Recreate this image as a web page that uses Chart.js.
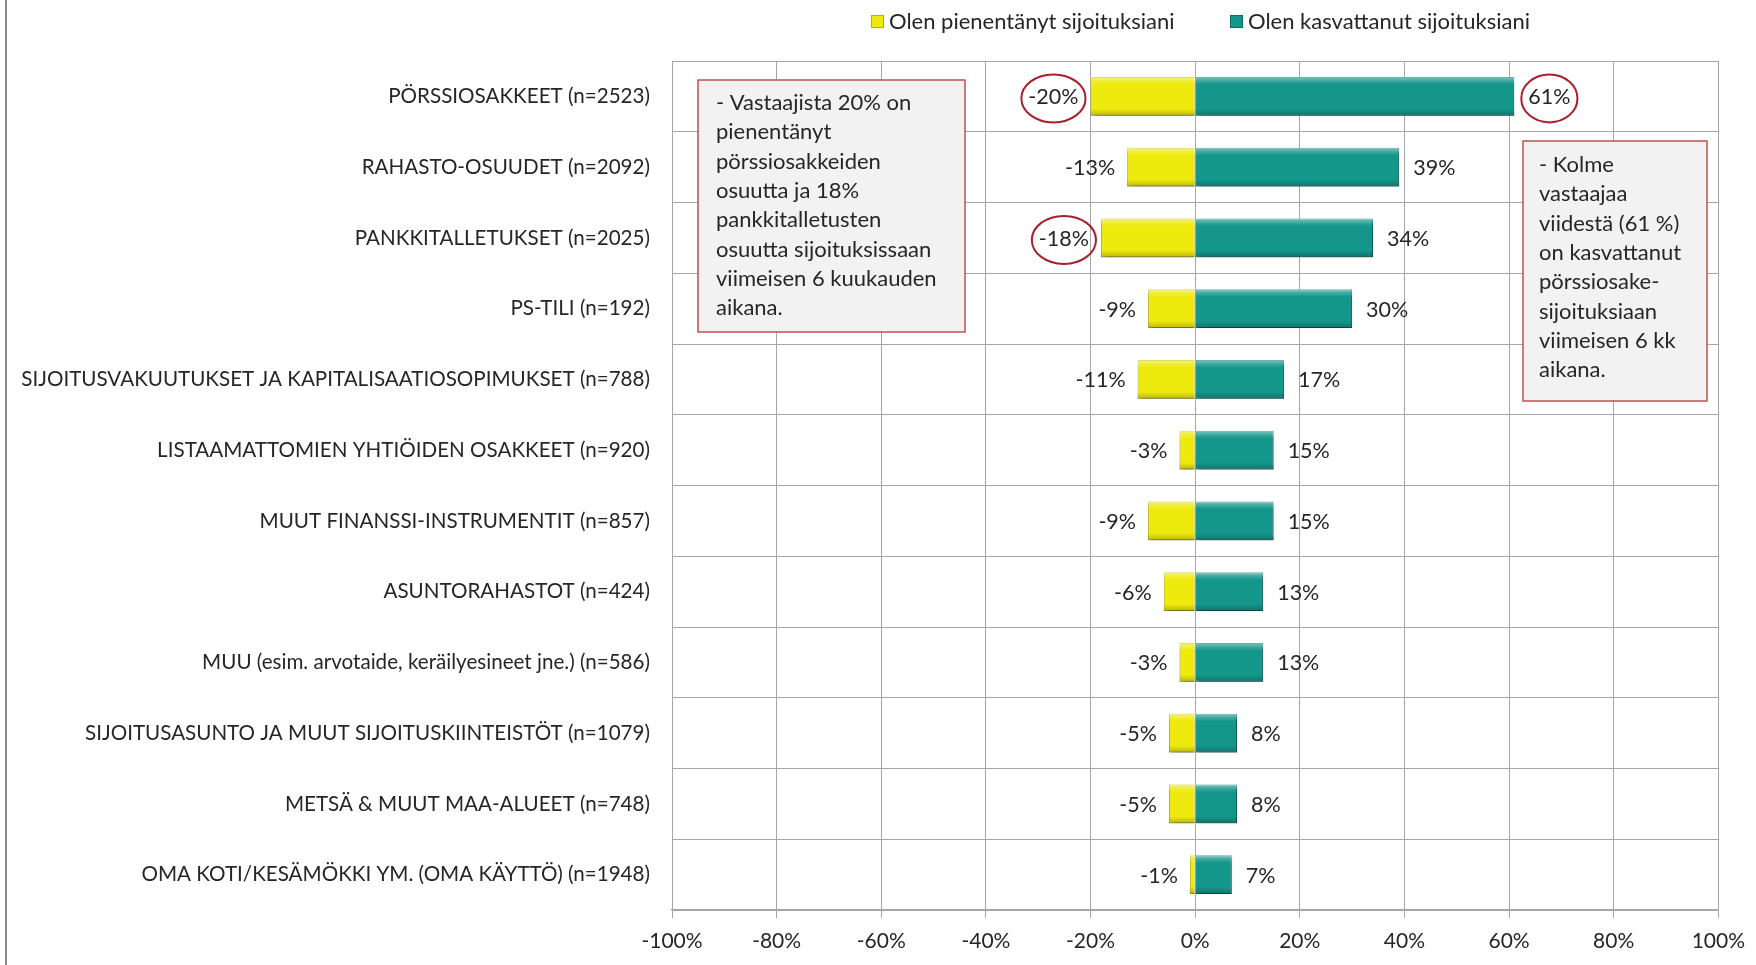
<!DOCTYPE html>
<html>
<head>
<meta charset="utf-8">
<script src="https://cdn.jsdelivr.net/npm/chart.js@4.4.0/dist/chart.umd.min.js"></script>
<style>
html, body { margin: 0; padding: 0; background: #fff; }
#wrap { position: relative; width: 1756px; height: 965px; }
</style>
</head>
<body>
<div id="wrap"><canvas id="InvestChart" width="1756" height="965"></canvas></div>
<script>
var categories = [
    "PÖRSSIOSAKKEET (n=2523)",
    "RAHASTO-OSUUDET (n=2092)",
    "PANKKITALLETUKSET (n=2025)",
    "PS-TILI (n=192)",
    "SIJOITUSVAKUUTUKSET JA KAPITALISAATIOSOPIMUKSET (n=788)",
    "LISTAAMATTOMIEN YHTIÖIDEN OSAKKEET (n=920)",
    "MUUT FINANSSI-INSTRUMENTIT (n=857)",
    "ASUNTORAHASTOT (n=424)",
    "MUU (esim. arvotaide, keräilyesineet jne.) (n=586)",
    "SIJOITUSASUNTO JA MUUT SIJOITUSKIINTEISTÖT (n=1079)",
    "METSÄ & MUUT MAA-ALUEET (n=748)",
    "OMA KOTI/KESÄMÖKKI YM. (OMA KÄYTTÖ) (n=1948)"
];
var decreased = [-20, -13, -18, -9, -11, -3, -9, -6, -3, -5, -5, -1];
var increased = [61, 39, 34, 30, 17, 15, 15, 13, 13, 8, 8, 7];
var seriesNames = ["Olen pienentänyt sijoituksiani", "Olen kasvattanut sijoituksiani"];
var xTicks = [-100, -80, -60, -40, -20, 0, 20, 40, 60, 80, 100];

// circled labels: [dataset index, row index]
var circled = [[0, 0], [1, 0], [0, 2]];

var leftNote = [
    "- Vastaajista 20% on",
    "pienentänyt",
    "pörssiosakkeiden",
    "osuutta ja 18%",
    "pankkitalletusten",
    "osuutta sijoituksissaan",
    "viimeisen 6 kuukauden",
    "aikana."
];
var rightNote = [
    "- Kolme",
    "vastaajaa",
    "viidestä (61 %)",
    "on kasvattanut",
    "pörssiosake-",
    "sijoituksiaan",
    "viimeisen 6 kk",
    "aikana."
];

var FONT = "Lato, 'Open Sans', sans-serif";
var TEXT = "#262626";
var GRID = "#a6a6a6";
var YELLOW = "#eeea0e";
var TEAL = "#14968b";

// shadow under the bars, like the excel bevel look
var shadowPlugin = {
    id: 'barShadow',
    beforeDatasetsDraw: function (chart) {
        var ctx = chart.ctx;
        ctx.save();
        ctx.shadowColor = 'rgba(0,0,0,0.35)';
        ctx.shadowBlur = 5;
        ctx.shadowOffsetX = 2;
        ctx.shadowOffsetY = 3;
    },
    afterDatasetsDraw: function (chart) {
        chart.ctx.restore();
    }
};

var bevelPlugin = {
    id: 'bevel',
    afterDatasetsDraw: function (chart) {
        var ctx = chart.ctx;
        chart.data.datasets.forEach(function (ds, di) {
            chart.getDatasetMeta(di).data.forEach(function (bar) {
                var p = bar.getProps(['x', 'y', 'base', 'height'], true);
                var l = Math.min(p.x, p.base), r = Math.max(p.x, p.base);
                var t = p.y - p.height / 2, b = p.y + p.height / 2;
                if (r - l < 1) return;
                var g = ctx.createLinearGradient(0, t, 0, b);
                g.addColorStop(0, 'rgba(255,255,255,0.45)');
                g.addColorStop(0.12, 'rgba(255,255,255,0.15)');
                g.addColorStop(0.2, 'rgba(255,255,255,0)');
                g.addColorStop(0.82, 'rgba(0,0,0,0)');
                g.addColorStop(1, 'rgba(0,0,0,0.22)');
                ctx.save();
                ctx.fillStyle = g;
                ctx.fillRect(l, t, r - l, b - t);
                ctx.restore();
            });
        });
    }
};

var valueLabelPlugin = {
    id: 'valueLabels',
    afterDatasetsDraw: function (chart) {
        var ctx = chart.ctx;
        ctx.save();
        ctx.font = "21.5px " + FONT;
        ctx.fillStyle = TEXT;
        ctx.textBaseline = 'middle';
        chart.data.datasets.forEach(function (ds, di) {
            chart.getDatasetMeta(di).data.forEach(function (bar, i) {
                var v = ds.data[i];
                var txt = v + '%';
                var w = ctx.measureText(txt).width;
                var cx;
                if (v < 0) {
                    ctx.textAlign = 'right';
                    ctx.fillText(txt, bar.x - 12, bar.y + 1);
                    cx = bar.x - 12 - w / 2;
                } else {
                    ctx.textAlign = 'left';
                    ctx.fillText(txt, bar.x + 14, bar.y + 1);
                    cx = bar.x + 14 + w / 2;
                }
                circled.forEach(function (c) {
                    if (c[0] === di && c[1] === i) {
                        ctx.save();
                        ctx.strokeStyle = '#a8202a';
                        ctx.lineWidth = 2;
                        ctx.beginPath();
                        ctx.ellipse(cx, bar.y + 2, w / 2 + 7, 24, 0, 0, Math.PI * 2);
                        ctx.stroke();
                        ctx.restore();
                    }
                });
            });
        });
        ctx.restore();
    }
};

function drawNote(ctx, x, y, w, h, lines, tx, ty) {
    ctx.save();
    ctx.fillStyle = '#f2f2f2';
    ctx.fillRect(x, y, w, h);
    ctx.strokeStyle = '#c0504d';
    ctx.lineWidth = 1.5;
    ctx.strokeRect(x, y, w, h);
    ctx.font = "22px " + FONT;
    ctx.fillStyle = TEXT;
    ctx.textAlign = 'left';
    ctx.textBaseline = 'middle';
    lines.forEach(function (s, i) {
        ctx.fillText(s, tx, ty + i * 29.3);
    });
    ctx.restore();
}

var decorPlugin = {
    id: 'decor',
    afterDraw: function (chart) {
        var ctx = chart.ctx;
        // left frame line of the chart area
        ctx.save();
        ctx.strokeStyle = '#8c8c8c';
        ctx.lineWidth = 2;
        ctx.beginPath();
        ctx.moveTo(6, 0);
        ctx.lineTo(6, 965);
        ctx.stroke();
        ctx.restore();

        // legend
        var items = [
            { x: 871, color: YELLOW, border: '#b5b008' },
            { x: 1230, color: TEAL, border: '#0d6e66' }
        ];
        ctx.save();
        ctx.font = "22px " + FONT;
        ctx.textBaseline = 'middle';
        ctx.textAlign = 'left';
        items.forEach(function (it, i) {
            ctx.fillStyle = it.color;
            ctx.fillRect(it.x, 15, 13, 13);
            ctx.strokeStyle = it.border;
            ctx.lineWidth = 1;
            ctx.strokeRect(it.x + 0.5, 15.5, 12, 12);
            ctx.fillStyle = TEXT;
            ctx.fillText(seriesNames[i], it.x + 18, 22);
        });
        ctx.restore();

        drawNote(ctx, 698, 80, 267, 252, leftNote, 716, 103);
        drawNote(ctx, 1523, 141, 184, 260, rightNote, 1539, 165);
    }
};

var ctx = document.getElementById("InvestChart").getContext('2d');
var myChart = new Chart(ctx, {
    type: 'bar',
    data: {
        labels: categories,
        datasets: [{
            label: seriesNames[0],
            data: decreased,
            backgroundColor: YELLOW,
            borderColor: '#c9c40c',
            borderWidth: 1,
            categoryPercentage: 1,
            barPercentage: 0.55
        }, {
            label: seriesNames[1],
            data: increased,
            backgroundColor: TEAL,
            borderColor: '#0f776f',
            borderWidth: 1,
            categoryPercentage: 1,
            barPercentage: 0.55
        }]
    },
    options: {
        indexAxis: 'y',
        responsive: false,
        animation: false,
        layout: { padding: { top: 61, left: 0, right: 34, bottom: 0 } },
        plugins: {
            legend: { display: false },
            tooltip: { enabled: false }
        },
        scales: {
            x: {
                stacked: true,
                min: -100,
                max: 100,
                afterBuildTicks: function (scale) {
                    scale.ticks = xTicks.map(function (v) { return { value: v }; });
                },
                ticks: {
                    callback: function (v) { return v + '%'; },
                    font: { family: FONT, size: 21 },
                    color: TEXT,
                    padding: 11,
                    maxRotation: 0
                },
                grid: { color: GRID, lineWidth: 1, tickLength: 8 },
                border: { color: GRID, width: 1.5 },
                afterFit: function (scale) { scale.height = 55; }
            },
            y: {
                stacked: true,
                offset: true,
                ticks: {
                    font: { family: FONT, size: 20.6 },
                    color: TEXT,
                    padding: 22,
                    autoSkip: false
                },
                grid: { color: GRID, lineWidth: 1, offset: true, drawTicks: false },
                border: { color: GRID, width: 1 },
                afterFit: function (scale) { scale.width = 672; }
            }
        }
    },
    plugins: [shadowPlugin, bevelPlugin, valueLabelPlugin, decorPlugin]
});
</script>
</body>
</html>
